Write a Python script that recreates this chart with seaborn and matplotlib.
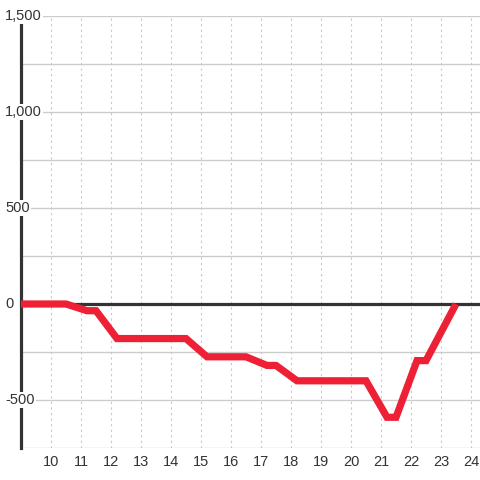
import pandas as pd
import numpy as np
import matplotlib
matplotlib.use("Agg")
import matplotlib.pyplot as plt
import seaborn as sns

# hour of day vs cumulative value
hours = [9.0, 10.5, 11.2, 11.5, 12.2, 14.5, 15.2, 16.5, 17.2, 17.5,
         18.2, 20.5, 21.2, 21.5, 22.2, 22.5, 23.5]
values = [0, 0, -35, -35, -180, -180, -275, -275, -320, -320,
          -400, -400, -590, -590, -295, -295, 0]
x_ticks = list(range(10, 25))
y_ticks = [-500, 0, 500, 1000, 1500]
y_minor = [-750, -250, 250, 750, 1250]

df = pd.DataFrame({"hour": hours, "value": values})

sns.set_style("white")
plt.rcParams["font.family"] = ["Liberation Sans", "DejaVu Sans"]

fig = plt.figure(figsize=(4.8, 4.8), dpi=100)
ax = fig.add_axes([21 / 480, 32 / 480, 459 / 480, 432 / 480])

ax.set_xlim(9, 24.3)
ax.set_ylim(-750, 1500)

# grid
for yv in y_ticks + y_minor:
    ax.axhline(yv, color="#cccccc", lw=1, zorder=1)
for xv in x_ticks:
    ax.axvline(xv, color="#c8c8c8", lw=0.8, ls=(0, (2, 3)), zorder=1)

ax.axhline(0, color="#333333", lw=2.3, zorder=3)

sns.lineplot(data=df, x="hour", y="value", ax=ax, color="#ee2036", lw=5.2,
             zorder=4, solid_joinstyle="miter", solid_capstyle="butt")

for s in ["top", "right", "bottom"]:
    ax.spines[s].set_visible(False)
ax.spines["left"].set_color("#333333")
ax.spines["left"].set_linewidth(2.3)
ax.spines["left"].set_zorder(2.5)

ax.set_xticks(x_ticks)
ax.set_xticklabels([str(t) for t in x_ticks])
ax.tick_params(axis="x", length=0, pad=5, labelsize=10.5, labelcolor="#333333")
ax.set_yticks([])
ax.set_xlabel("")
ax.set_ylabel("")

for yv in y_ticks:
    ax.text(-16 / 459, yv, f"{yv:,}", transform=ax.get_yaxis_transform(),
            ha="left", va="center", fontsize=10.5, color="#333333",
            zorder=6, clip_on=False,
            bbox=dict(facecolor="white", edgecolor="none", pad=1))

fig.savefig("out.png", dpi=100)
